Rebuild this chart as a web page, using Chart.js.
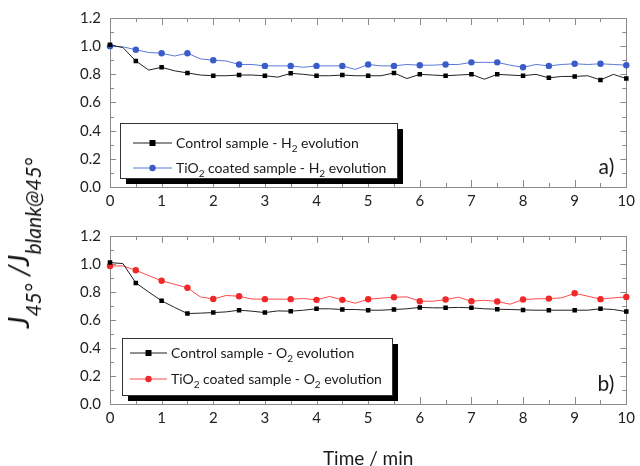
<!DOCTYPE html>
<html>
<head>
<meta charset="utf-8">
<script src="https://cdn.jsdelivr.net/npm/chart.js@4.4.0/dist/chart.umd.min.js"></script>
<style>
  html, body { margin: 0; padding: 0; background: #fff; }
  #wrap { position: relative; width: 640px; height: 466px; overflow: hidden; font-family: Lato, sans-serif; }
  canvas { position: absolute; left: 0; }
  #topChart { top: 0; }
  #botChart { top: 218px; }
  #ytitle {
    position: absolute; left: 23px; top: 243px;
    transform: translate(-50%, -50%) rotate(-90deg);
    white-space: nowrap; font-style: italic; font-size: 29px; color: #111; line-height: 1;
  }
  #ytitle sub { font-size: 21px; vertical-align: -12px; }
</style>
</head>
<body>
<div id="wrap">
  <canvas id="topChart" width="640" height="215"></canvas>
  <canvas id="botChart" width="640" height="252"></canvas>
  <div id="ytitle">J<sub>45°</sub> /J<sub>blank@45°</sub></div>
</div>
<script>
// time axis, one reading every 0.25 min
const times = [0, 0.25, 0.5, 0.75, 1, 1.25, 1.5, 1.75, 2, 2.25, 2.5, 2.75, 3, 3.25, 3.5, 3.75,
               4, 4.25, 4.5, 4.75, 5, 5.25, 5.5, 5.75, 6, 6.25, 6.5, 6.75, 7, 7.25, 7.5, 7.75,
               8, 8.25, 8.5, 8.75, 9, 9.25, 9.5, 9.75, 10];

// a) H2 evolution
const controlH2 = [1.01, 0.99, 0.895, 0.83, 0.85, 0.825, 0.81, 0.795, 0.79, 0.79, 0.795, 0.795, 0.79, 0.78, 0.807, 0.80,
                   0.79, 0.79, 0.795, 0.79, 0.79, 0.79, 0.81, 0.77, 0.80, 0.795, 0.79, 0.795, 0.80, 0.765, 0.80, 0.795,
                   0.79, 0.80, 0.775, 0.785, 0.785, 0.79, 0.76, 0.80, 0.77];
const tio2H2 = [1.0, 0.995, 0.975, 0.955, 0.95, 0.93, 0.95, 0.91, 0.90, 0.895, 0.87, 0.87, 0.86, 0.86, 0.86, 0.85,
                0.86, 0.86, 0.86, 0.835, 0.87, 0.86, 0.86, 0.87, 0.865, 0.865, 0.87, 0.87, 0.885, 0.885, 0.885, 0.865,
                0.85, 0.87, 0.86, 0.87, 0.875, 0.87, 0.875, 0.87, 0.865];

// b) O2 evolution
const controlO2 = [1.01, 1.003, 0.865, 0.80, 0.737, 0.69, 0.646, 0.649, 0.653, 0.658, 0.67, 0.663, 0.653, 0.665, 0.663, 0.67,
                   0.68, 0.68, 0.675, 0.675, 0.67, 0.67, 0.675, 0.68, 0.69, 0.687, 0.687, 0.69, 0.687, 0.68, 0.677, 0.675,
                   0.672, 0.67, 0.67, 0.67, 0.67, 0.67, 0.68, 0.675, 0.66];
const tio2O2 = [0.986, 0.986, 0.955, 0.917, 0.88, 0.855, 0.83, 0.765, 0.75, 0.775, 0.77, 0.75, 0.749, 0.749, 0.749, 0.753,
                0.744, 0.768, 0.744, 0.72, 0.748, 0.756, 0.763, 0.765, 0.734, 0.734, 0.746, 0.763, 0.734, 0.741, 0.732, 0.713,
                0.746, 0.751, 0.753, 0.758, 0.791, 0.77, 0.749, 0.758, 0.765];

const yTicks = [0, 0.2, 0.4, 0.6, 0.8, 1.0, 1.2];
const xTicks = [0, 1, 2, 3, 4, 5, 6, 7, 8, 9, 10];

const FONT = 'Lato, sans-serif';

function pts(vals) {
    return times.map((t, i) => ({ x: t, y: vals[i] }));
}

// markers only on every second reading (each 0.5 min)
function everyOther(r) {
    return ctx => ctx.dataIndex % 2 === 0 ? r : 0;
}

// box frame with inward ticks on all four sides
const frameTicks = {
    id: 'frameTicks',
    beforeDatasetsDraw(chart) {
        const { ctx, chartArea: a, scales: { x, y } } = chart;
        ctx.save();
        ctx.strokeStyle = '#8a8a8a';
        ctx.lineWidth = 1;
        ctx.strokeRect(Math.round(a.left) + 0.5, Math.round(a.top) + 0.5,
                       Math.round(a.right - a.left), Math.round(a.bottom - a.top));
        ctx.beginPath();
        for (let k = 0; k <= 20; k++) {
            const px = Math.round(x.getPixelForValue(k * 0.5)) + 0.5;
            const len = k % 2 === 0 ? 7 : 4;
            ctx.moveTo(px, a.bottom); ctx.lineTo(px, a.bottom - len);
            ctx.moveTo(px, a.top); ctx.lineTo(px, a.top + len);
        }
        for (let k = 0; k <= 12; k++) {
            const py = Math.round(y.getPixelForValue(k * 0.1)) + 0.5;
            const len = k % 2 === 0 ? 6 : 4;
            ctx.moveTo(a.left, py); ctx.lineTo(a.left + len, py);
            ctx.moveTo(a.right, py); ctx.lineTo(a.right - len, py);
        }
        ctx.stroke();
        ctx.restore();
    }
};

// legend box with drop shadow and subscripts, plus panel letter
const boxLegend = {
    id: 'boxLegend',
    afterDatasetsDraw(chart, args, opts) {
        const { ctx, chartArea: a } = chart;
        const bx = a.left + opts.dx, by = a.top + opts.dy;
        ctx.save();
        ctx.fillStyle = '#000';
        ctx.fillRect(bx + 6, by + 6, opts.w, opts.h);
        ctx.fillStyle = '#fff';
        ctx.fillRect(bx, by, opts.w, opts.h);
        ctx.strokeStyle = '#333';
        ctx.lineWidth = 1;
        ctx.strokeRect(bx + 0.5, by + 0.5, opts.w, opts.h);

        opts.items.forEach((it, i) => {
            const ry = by + opts.rowY[i];
            const ds = chart.data.datasets[i];
            ctx.strokeStyle = ds.borderColor;
            ctx.lineWidth = 1;
            ctx.beginPath();
            ctx.moveTo(bx + opts.lineX0, ry);
            ctx.lineTo(bx + opts.lineX1, ry);
            ctx.stroke();
            const mx = bx + (opts.lineX0 + opts.lineX1) / 2;
            ctx.fillStyle = ds.pointBackgroundColor;
            ctx.beginPath();
            if (ds.pointStyle === 'rect') ctx.rect(mx - 3, ry - 3, 6, 6);
            else ctx.arc(mx, ry, 3.2, 0, Math.PI * 2);
            ctx.fill();

            let tx = bx + opts.textX;
            ctx.fillStyle = '#1a1a1a';
            ctx.textBaseline = 'middle';
            it.forEach((part, j) => {
                const sub = j % 2 === 1;
                ctx.font = (sub ? '10px ' : '14px ') + FONT;
                ctx.fillText(part, tx, ry + (sub ? 6 : 0));
                tx += ctx.measureText(part).width;
            });
        });

        ctx.font = '21px ' + FONT;
        ctx.fillStyle = '#1a1a1a';
        ctx.textAlign = 'right';
        ctx.textBaseline = 'middle';
        ctx.fillText(opts.panel, a.right - 12, a.bottom - 20);
        ctx.restore();
    }
};

function makePanel(id, black, colored, color, markColor, items, panel, legendBox, bottomAxis) {
    new Chart(document.getElementById(id), {
        type: 'line',
        data: {
            datasets: [{
                data: pts(black),
                borderColor: '#222',
                borderWidth: 1,
                pointStyle: 'rect',
                pointRadius: everyOther(3.2),
                pointBackgroundColor: '#000',
                pointBorderWidth: 0,
                clip: 6
            }, {
                data: pts(colored),
                borderColor: color,
                borderWidth: 1,
                pointStyle: 'circle',
                pointRadius: everyOther(3.2),
                pointBackgroundColor: markColor,
                pointBorderWidth: 0,
                clip: 6
            }]
        },
        options: {
            responsive: false,
            animation: false,
            layout: { padding: { left: 65, right: 13, top: 18, bottom: 0 } },
            plugins: {
                legend: { display: false },
                tooltip: { enabled: false },
                boxLegend: Object.assign({ items: items, panel: panel }, legendBox)
            },
            scales: {
                x: {
                    type: 'linear', min: 0, max: 10,
                    grid: { display: false, drawTicks: false },
                    border: { display: false },
                    afterBuildTicks: s => { s.ticks = xTicks.map(v => ({ value: v })); },
                    afterFit: s => { s.height = bottomAxis ? 66 : 28; },
                    ticks: { color: '#222', padding: 5, font: { family: FONT, size: 15 }, callback: v => String(v) },
                    title: bottomAxis ? {
                        display: true, text: 'Time / min', color: '#1a1a1a',
                        font: { family: FONT, size: 19 }, padding: 0
                    } : { display: false }
                },
                y: {
                    min: 0, max: 1.2,
                    grid: { display: false, drawTicks: false },
                    border: { display: false },
                    afterBuildTicks: s => { s.ticks = yTicks.map(v => ({ value: v })); },
                    afterFit: s => { s.width = 45; },
                    ticks: { color: '#222', padding: 9, font: { family: FONT, size: 15 }, callback: v => v.toFixed(1) }
                }
            }
        },
        plugins: [frameTicks, boxLegend]
    });
}

makePanel('topChart', controlH2, tio2H2, '#5a78d8', '#3a5cc8',
    [['Control sample - H', '2', ' evolution'], ['TiO', '2', ' coated sample - H', '2', ' evolution']],
    'a)', { dx: 10, dy: 105, w: 277, h: 55, rowY: [20, 45], lineX0: 13, lineX1: 52, textX: 56 }, false);

makePanel('botChart', controlO2, tio2O2, '#ff4a4a', '#f02828',
    [['Control sample - O', '2', ' evolution'], ['TiO', '2', ' coated sample - O', '2', ' evolution']],
    'b)', { dx: 12, dy: 102, w: 270, h: 57, rowY: [15, 41], lineX0: 8, lineX1: 45, textX: 49 }, true);
</script>
</body>
</html>
